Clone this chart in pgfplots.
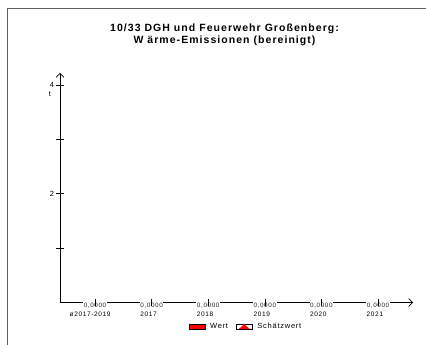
\documentclass[border=0pt]{standalone}
\usepackage{fontspec}
\setmainfont{Liberation Sans}[LetterSpace=10]
\usepackage{pgfplots}
\pgfplotsset{compat=1.18}
\usetikzlibrary{arrows.meta}

\begin{document}
\begin{tikzpicture}
\path[use as bounding box] (0pt,0pt) rectangle (426pt,345pt);
\draw[gray!75!black, line width=0.9pt] (7pt,0pt) -- (7pt,337pt) -- (426pt,337pt);
\begin{axis}[
  at={(60pt,42.5pt)}, anchor=south west,
  scale only axis, width=353pt, height=229.5pt,
  xmin=-0.618, xmax=5.618, ymin=0, ymax=4.22,
  axis lines=left,
  axis line style={line width=0.6pt, -{Straight Barb[length=4pt,width=8pt]}},
  tick align=center,
  major tick length=7pt,
  tick style={black, line width=0.6pt},
  ytick={1,2,3,4}, yticklabels={,2,,4},
  xtick={0,1,2,3,4,5},
  xticklabels={\hspace*{-14pt}ø2017-2019,2017,2018,2019,2020,2021},
  x tick style={draw=none},
  /pgf/number format/assume math mode=true,
  yticklabel style={font=\fontsize{7.5}{8}\selectfont, xshift=1pt},
  xticklabel style={font=\fontsize{6.5}{7}\selectfont, anchor=base west, inner sep=0pt, xshift=-11.5pt, yshift=-10.7pt},
  ylabel={t},
  ylabel style={rotate=-90, at={(rel axis cs:0,0.906)}, anchor=center, xshift=-10pt, font=\fontsize{7.5}{8}\selectfont},
  title={10/33 DGH und Feuerwehr Großenberg:\\W ärme-Emissionen (bereinigt)},
  title style={align=center, font=\fontsize{10.5}{12}\selectfont\bfseries, at={(rel axis cs:0.466,1.141)}, anchor=center},
  legend columns=2,
  legend style={draw=none, fill=none, font=\fontsize{7.5}{8}\selectfont,
    at={(axis description cs:0.527,-0.105)}, anchor=center,
    /tikz/every odd column/.append style={column sep=3pt},
    /tikz/every even column/.append style={column sep=6pt}},
]
\addplot[ybar, bar width=0.6pt, bar shift=0pt, fill=red, draw=black,
  nodes near coords={\pgfmathprintnumber[fixed,fixed zerofill,precision=4,use comma,assume math mode=true]{\pgfplotspointmeta}},
  every node near coord/.append style={anchor=base, yshift=-4.8pt, inner sep=0.6pt, fill=white, font=\fontsize{6.3}{6.5}\selectfont, text=black!85},
  legend image code/.code={\draw[fill=red, draw=black] (0pt,-2.5pt) rectangle (16pt,2.5pt);}]
coordinates {(0,0) (1,0) (2,0) (3,0) (4,0) (5,0)};
\addlegendentry{Wert}
\addplot[ybar, bar width=0.6pt, bar shift=0pt, fill=white, draw=black,
  legend image code/.code={\draw[fill=white, draw=black] (0pt,-2.5pt) rectangle (16pt,2.5pt);
    \draw[red, line width=0.7pt] (3pt,-2.5pt) -- (8pt,2pt) -- (13pt,-2.5pt);}]
coordinates {(0,0) (1,0) (2,0) (3,0) (4,0) (5,0)};
\addlegendentry{Schätzwert}
\addplot[only marks, mark=|, mark size=3.5pt, black, line width=0.6pt, forget plot]
coordinates {(0,0) (1,0) (2,0) (3,0) (4,0) (5,0)};
\end{axis}
\end{tikzpicture}
\end{document}
